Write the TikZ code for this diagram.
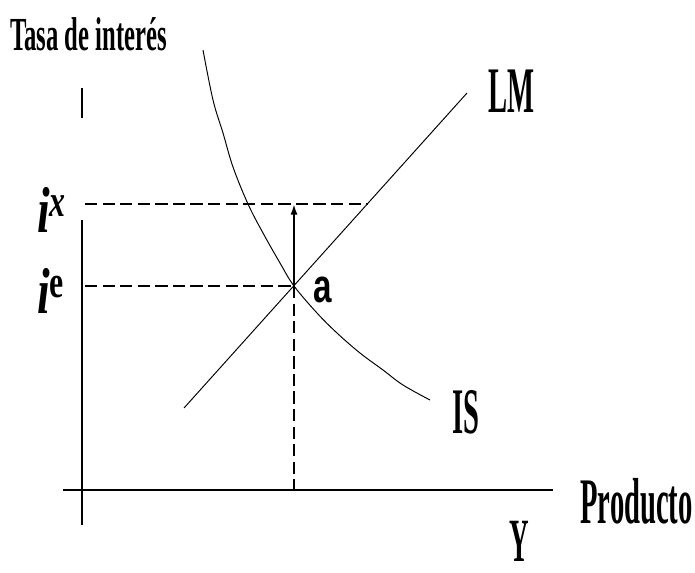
\documentclass[tikz,border=0pt]{standalone}
\usepackage{fontspec}
\setmainfont{Liberation Serif}
\newfontfamily\ptsans{Liberation Sans}
\usepackage{graphicx}
\usetikzlibrary{arrows.meta}
\newcommand{\narrow}[2][0.44]{\scalebox{#1}[1]{#2}}

\begin{document}
\begin{tikzpicture}[x=0.02cm, y=-0.02cm,
  lbl/.style={inner sep=0pt, anchor=base west, font=\fontsize{37}{40}\selectfont\bfseries},
  guide/.style={dash pattern=on 7pt off 3pt, line width=0.8pt},
  axis/.style={line width=0.9pt},
  curve/.style={line width=0.55pt},
  arr/.style={-{Latex[length=6pt,width=4pt]}, line width=1.1pt}
]
  \useasboundingbox (0,0) rectangle (695,572);

  % points
  \coordinate (a) at (294,286);
  \coordinate (lmx) at (368,204);
  \coordinate (ixleft) at (85,204);
  \coordinate (ieleft) at (85,286);
  \coordinate (abase) at (294,490);
  \coordinate (atop) at (294,204);
  \coordinate (lmlow) at (184,408);
  \coordinate (lmtop) at (467,93);
  \coordinate (ytop) at (82,88);
  \coordinate (ybreak) at (82,118);
  \coordinate (yresume) at (82,220);
  \coordinate (ylow) at (82,525);
  \coordinate (xleft) at (63,490);
  \coordinate (xright) at (553,490);

  % axes
  \draw[axis] (ytop) -- (ybreak);
  \draw[axis] (yresume) -- (ylow);
  \draw[axis] (xleft) -- (xright);

  % curves
  \draw[curve] (lmlow) -- (lmtop);
  \draw[curve] plot[smooth, tension=0.6] coordinates {(203,50) (213,100) (223,133) (233,167) (248,204) (263,233) (280,263) (294,286) (317,313) (337,333) (360,353) (383,370) (403,385) (430,400)};

  % guides
  \draw[guide] (ixleft) -- (lmx);
  \draw[guide] (ieleft) -- (a);
  \draw[guide] (a) -- (abase);
  \draw[arr] (a) -- (atop);

  % labels
  \node[lbl, font=\fontsize{27}{30}\selectfont\bfseries] (title) at (10,50) {\narrow[0.52]{Tasa de interés}};
  \node[lbl] (lm) at (488,112) {\narrow{LM}};
  \node[lbl] (is) at (452,433) {\narrow{IS}};
  \node[lbl] (prod) at (580,523) {\narrow{Producto}};
  \node[lbl, font=\fontsize{35}{38}\selectfont\bfseries] (yout) at (509,561) {\narrow{Y}};
  \node[lbl] (ix) at (37,232) {\narrow[0.7]{\textit{i}\textsuperscript{\textit{x}}}};
  \node[lbl] (ie) at (37,313) {\narrow[0.7]{\textit{i}\textsuperscript{e}}};
  \node[lbl, font=\fontsize{27}{30}\selectfont\bfseries\ptsans] (alabel) at (313,302) {\narrow[0.7]{a}};
\end{tikzpicture}
\end{document}
